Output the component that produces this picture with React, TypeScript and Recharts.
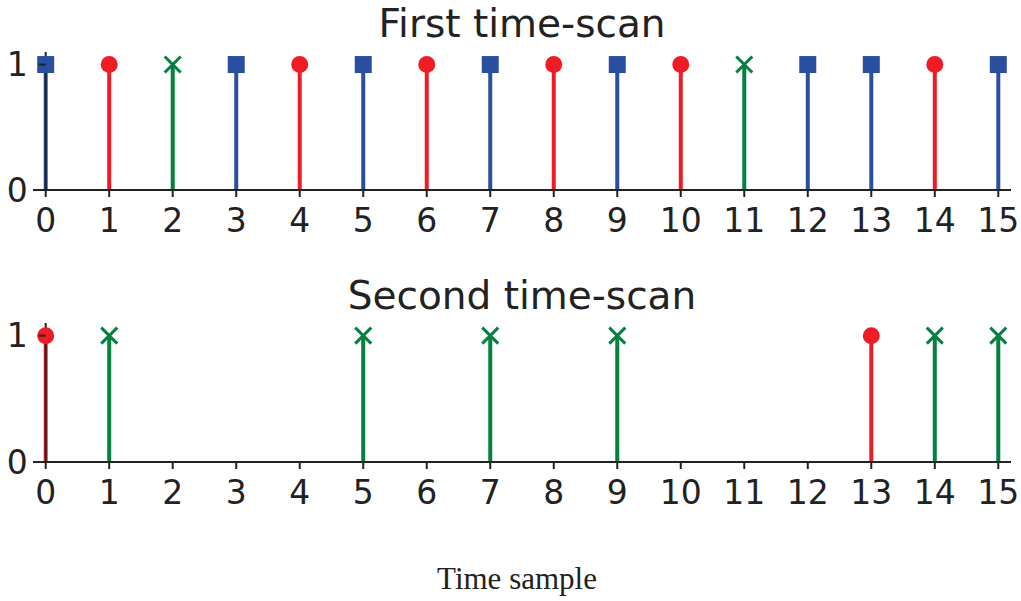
import React from 'react';
import { ComposedChart, Scatter, XAxis, YAxis, ReferenceLine } from 'recharts';

// sample index on the x axis
const samples = [0, 1, 2, 3, 4, 5, 6, 7, 8, 9, 10, 11, 12, 13, 14, 15];
const yTicks = [0, 1];

// first scan: every sample fires, marker kind tells which class it is
const firstScan = [1, 1, 1, 1, 1, 1, 1, 1, 1, 1, 1, 1, 1, 1, 1, 1];
const firstKinds = [
    'square', 'circle', 'cross', 'square', 'circle', 'square', 'circle', 'square',
    'circle', 'square', 'circle', 'cross', 'square', 'square', 'circle', 'square',
];

// second scan: only a few samples fire
const secondScan = [1, 1, 0, 0, 0, 1, 0, 1, 0, 1, 0, 0, 0, 1, 1, 1];
const secondKinds = [
    'circle', 'cross', '', '', '', 'cross', '', 'cross',
    '', 'cross', '', '', '', 'circle', 'cross', 'cross',
];

const COLORS: Record<string, string> = {
    square: '#2a4ea0',
    circle: '#ee1c25',
    cross: '#04803f',
};
const INK = '#222222';

const W = 1021;
const CHART_H = 250;
const Y_AXIS_W = 33;
const MARGIN_RIGHT = 10;
const X_DOMAIN: [number, number] = [-0.2, 15.2];
const PLOT_W = W - Y_AXIS_W - MARGIN_RIGHT;
// pixel column of x = 0, where the left spine sits
const SPINE_X = Y_AXIS_W + ((0 - X_DOMAIN[0]) / (X_DOMAIN[1] - X_DOMAIN[0])) * PLOT_W;
const TICK_FONT = 33;

const makeMarker = (kind: string) => (props: any) => {
    const { cx, cy } = props;
    const color = COLORS[kind];
    if (kind === 'square') {
        return <rect x={cx - 8.5} y={cy - 8.5} width={17} height={17} fill={color} />;
    }
    if (kind === 'circle') {
        return <circle cx={cx} cy={cy} r={8.5} fill={color} />;
    }
    const d = 8;
    return (
        <path
            d={`M${cx - d},${cy - d}L${cx + d},${cy + d}M${cx - d},${cy + d}L${cx + d},${cy - d}`}
            stroke={color}
            strokeWidth={3}
            fill="none"
        />
    );
};

const YTick = ({ y, payload }: any) => (
    <g>
        <line x1={SPINE_X - 7} x2={SPINE_X} y1={y} y2={y} stroke={INK} strokeWidth={2} />
        <text
            x={SPINE_X - 18}
            y={y}
            dy={TICK_FONT * 0.355}
            textAnchor="end"
            fontSize={TICK_FONT}
            fontFamily="DejaVu Sans"
            fill={INK}
        >
            {payload.value}
        </text>
    </g>
);

interface StemChartProps {
    values: number[];
    kinds: string[];
    top: number;
    marginTop: number;
}

function StemChart({ values, kinds, top, marginTop }: StemChartProps) {
    const points = samples.map((t, i) => ({ t, v: values[i], kind: kinds[i] }));
    const fired = points.filter((p) => p.v !== 0);
    const groups = ['square', 'circle', 'cross'];

    return (
        <div style={{ position: 'absolute', left: 0, top }}>
            <ComposedChart
                width={W}
                height={CHART_H}
                margin={{ top: marginTop, right: MARGIN_RIGHT, bottom: 10, left: 0 }}
            >
                <XAxis
                    type="number"
                    dataKey="t"
                    domain={X_DOMAIN}
                    allowDataOverflow
                    ticks={samples}
                    interval={0}
                    height={50}
                    tickSize={7}
                    tickMargin={12}
                    tick={{ fontSize: TICK_FONT, fill: INK, fontFamily: 'DejaVu Sans' }}
                    axisLine={{ stroke: INK, strokeWidth: 2 }}
                    tickLine={{ stroke: INK, strokeWidth: 2 }}
                />
                <YAxis
                    type="number"
                    dataKey="v"
                    domain={[0, 1.1]}
                    allowDataOverflow
                    ticks={yTicks}
                    width={Y_AXIS_W}
                    axisLine={false}
                    tickLine={false}
                    tick={<YTick />}
                />
                {fired.map((p) => (
                    <ReferenceLine
                        key={`stem-${p.t}`}
                        segment={[{ x: p.t, y: 0 }, { x: p.t, y: p.v }]}
                        stroke={COLORS[p.kind]}
                        strokeWidth={4}
                    />
                ))}
                {groups.map((g) => (
                    <Scatter
                        key={g}
                        data={fired.filter((p) => p.kind === g)}
                        shape={makeMarker(g)}
                        isAnimationActive={false}
                    />
                ))}
                <ReferenceLine x={0} stroke={INK} strokeWidth={2} />
            </ComposedChart>
        </div>
    );
}

export default function App() {
    const titleCenter = Y_AXIS_W + PLOT_W / 2;
    return (
        <div style={{ position: 'absolute', left: 0, top: 0, width: W, height: 601, background: '#fff' }}>
            <StemChart values={firstScan} kinds={firstKinds} top={0} marginTop={52} />
            <StemChart values={secondScan} kinds={secondKinds} top={272} marginTop={51} />
            <svg
                width={W}
                height={601}
                style={{ position: 'absolute', left: 0, top: 0, pointerEvents: 'none' }}
            >
                <text x={titleCenter} y={37} textAnchor="middle" fontSize={39} fontFamily="DejaVu Sans" fill={INK}>
                    First time-scan
                </text>
                <text x={titleCenter} y={309} textAnchor="middle" fontSize={39} fontFamily="DejaVu Sans" fill={INK}>
                    Second time-scan
                </text>
                <text x={517} y={589} textAnchor="middle" fontSize={31} fontFamily="Liberation Serif" fill={INK}>
                    Time sample
                </text>
            </svg>
        </div>
    );
}
